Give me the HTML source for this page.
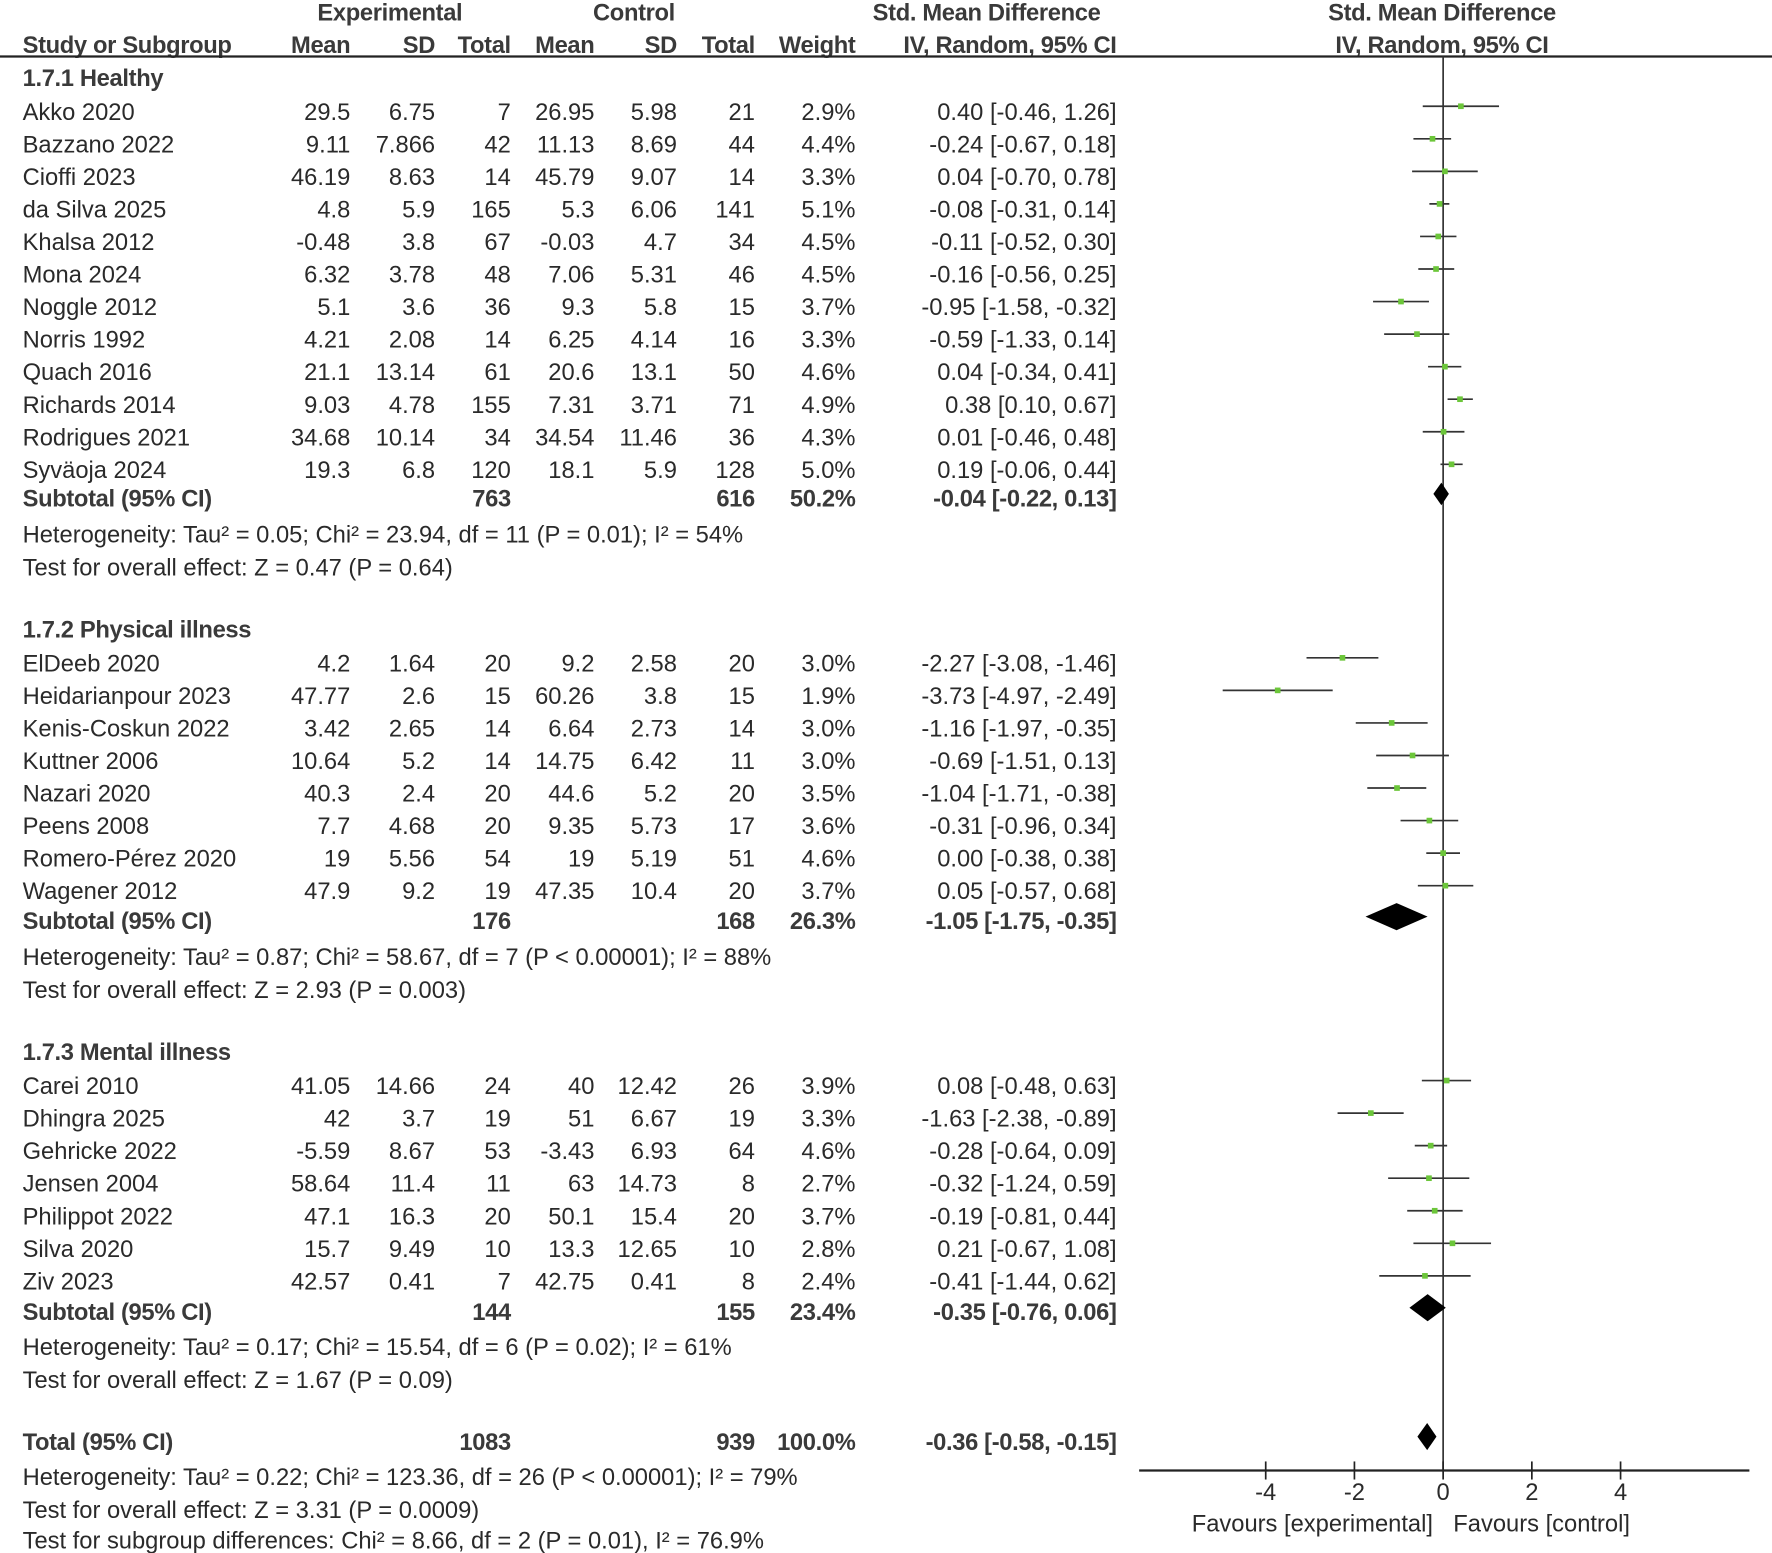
<!DOCTYPE html>
<html><head><meta charset="utf-8"><style>
html,body{margin:0;padding:0;background:#fff;}
svg{display:block}
text{font-family:"Liberation Sans",sans-serif;font-size:21px;fill:#2a2a2a;letter-spacing:0px}
.b{font-weight:bold;fill:#3a3a3a;letter-spacing:-0.3px}
</style></head><body>
<svg id="s" width="1772" height="1553" viewBox="0 0 1568 1374" preserveAspectRatio="none" xmlns="http://www.w3.org/2000/svg"></svg>
<script>
const s=document.getElementById('s');let h='';
function t(x,y,str,anchor,cls){h+=`<text x="${x}" y="${y+7}" text-anchor="${anchor||'start'}" class="${cls||''}">${str}</text>`;}
const X=v=>1277+39.25*v;
const cols=[310,385,452,526,599,668,757,988];
t(345,11,'Experimental','middle','b');t(561,11,'Control','middle','b');t(873,11,'Std. Mean Difference','middle','b');t(1276,11,'Std. Mean Difference','middle','b');
t(20,40,'Study or Subgroup','start','b');
['Mean','SD','Total','Mean','SD','Total','Weight','IV, Random, 95% CI'].forEach((c,i)=>t(cols[i],40,c,'end','b'));
t(1276,40,'IV, Random, 95% CI','middle','b');
h+=`<line x1="0" y1="50" x2="1568" y2="50" stroke="#222" stroke-width="2"/>`;
h+=`<line x1="1277" y1="50" x2="1277" y2="1300" stroke="#333" stroke-width="1.5"/>`;
const groups=[
{title:'1.7.1 Healthy',ty:69,y0:99,rows:[
['Akko 2020',29.5,6.75,7,26.95,5.98,21,'2.9%',0.40,-0.46,1.26],
['Bazzano 2022',9.11,7.866,42,11.13,8.69,44,'4.4%',-0.24,-0.67,0.18],
['Cioffi 2023',46.19,8.63,14,45.79,9.07,14,'3.3%',0.04,-0.70,0.78],
['da Silva 2025',4.8,5.9,165,5.3,6.06,141,'5.1%',-0.08,-0.31,0.14],
['Khalsa 2012',-0.48,3.8,67,-0.03,4.7,34,'4.5%',-0.11,-0.52,0.30],
['Mona 2024',6.32,3.78,48,7.06,5.31,46,'4.5%',-0.16,-0.56,0.25],
['Noggle 2012',5.1,3.6,36,9.3,5.8,15,'3.7%',-0.95,-1.58,-0.32],
['Norris 1992',4.21,2.08,14,6.25,4.14,16,'3.3%',-0.59,-1.33,0.14],
['Quach 2016',21.1,13.14,61,20.6,13.1,50,'4.6%',0.04,-0.34,0.41],
['Richards 2014',9.03,4.78,155,7.31,3.71,71,'4.9%',0.38,0.10,0.67],
['Rodrigues 2021',34.68,10.14,34,34.54,11.46,36,'4.3%',0.01,-0.46,0.48],
['Syväoja 2024',19.3,6.8,120,18.1,5.9,128,'5.0%',0.19,-0.06,0.44]],
sub:[441,763,616,'50.2%',-0.04,-0.22,0.13,10],het:[473,'Heterogeneity: Tau² = 0.05; Chi² = 23.94, df = 11 (P = 0.01); I² = 54%'],test:[502,'Test for overall effect: Z = 0.47 (P = 0.64)']},
{title:'1.7.2 Physical illness',ty:557,y0:587,rows:[
['ElDeeb 2020',4.2,1.64,20,9.2,2.58,20,'3.0%',-2.27,-3.08,-1.46],
['Heidarianpour 2023',47.77,2.6,15,60.26,3.8,15,'1.9%',-3.73,-4.97,-2.49],
['Kenis-Coskun 2022',3.42,2.65,14,6.64,2.73,14,'3.0%',-1.16,-1.97,-0.35],
['Kuttner 2006',10.64,5.2,14,14.75,6.42,11,'3.0%',-0.69,-1.51,0.13],
['Nazari 2020',40.3,2.4,20,44.6,5.2,20,'3.5%',-1.04,-1.71,-0.38],
['Peens 2008',7.7,4.68,20,9.35,5.73,17,'3.6%',-0.31,-0.96,0.34],
['Romero-Pérez 2020',19,5.56,54,19,5.19,51,'4.6%','0.00',-0.38,0.38],
['Wagener 2012',47.9,9.2,19,47.35,10.4,20,'3.7%',0.05,-0.57,0.68]],
sub:[815,176,168,'26.3%',-1.05,-1.75,-0.35,12],het:[847,'Heterogeneity: Tau² = 0.87; Chi² = 58.67, df = 7 (P &lt; 0.00001); I² = 88%'],test:[876,'Test for overall effect: Z = 2.93 (P = 0.003)']},
{title:'1.7.3 Mental illness',ty:931,y0:961,rows:[
['Carei 2010',41.05,14.66,24,40,12.42,26,'3.9%',0.08,-0.48,0.63],
['Dhingra 2025',42,3.7,19,51,6.67,19,'3.3%',-1.63,-2.38,-0.89],
['Gehricke 2022',-5.59,8.67,53,-3.43,6.93,64,'4.6%',-0.28,-0.64,0.09],
['Jensen 2004',58.64,11.4,11,63,14.73,8,'2.7%',-0.32,-1.24,0.59],
['Philippot 2022',47.1,16.3,20,50.1,15.4,20,'3.7%',-0.19,-0.81,0.44],
['Silva 2020',15.7,9.49,10,13.3,12.65,10,'2.8%',0.21,-0.67,1.08],
['Ziv 2023',42.57,0.41,7,42.75,0.41,8,'2.4%',-0.41,-1.44,0.62]],
sub:[1161,144,155,'23.4%',-0.35,-0.76,0.06,12],het:[1192,'Heterogeneity: Tau² = 0.17; Chi² = 15.54, df = 6 (P = 0.02); I² = 61%'],test:[1221,'Test for overall effect: Z = 1.67 (P = 0.09)']}];
const f=v=>typeof v==='string'?v:v.toFixed(2);
function dia(y,e,l,u,hh){h+=`<polygon points="${X(l)},${y} ${X(e)},${y-hh} ${X(u)},${y} ${X(e)},${y+hh}" fill="#000"/>`;}
groups.forEach(g=>{
 t(20,g.ty,g.title,'start','b');
 g.rows.forEach((r,i)=>{const y=g.y0+i*28.8;
  t(20,y,r[0]);for(let k=1;k<=7;k++)t(cols[k-1],y,r[k],'end');
  t(988,y,`${f(r[8])} [${f(r[9])}, ${f(r[10])}]`,'end');
  const e=parseFloat(r[8]);const yy=y-5;
  h+=`<line x1="${X(r[9])}" y1="${yy}" x2="${X(r[10])}" y2="${yy}" stroke="#333" stroke-width="1.5"/>`;
  h+=`<rect x="${X(e)-2.5}" y="${yy-2.5}" width="5" height="5" fill="#6cc63a"/>`;});
 const sb=g.sub;t(20,sb[0],'Subtotal (95% CI)','start','b');t(452,sb[0],sb[1],'end','b');t(668,sb[0],sb[2],'end','b');t(757,sb[0],sb[3],'end','b');
 t(988,sb[0],`${f(sb[4])} [${f(sb[5])}, ${f(sb[6])}]`,'end','b');dia(sb[0]-4,sb[4],sb[5],sb[6],sb[7]);
 t(20,g.het[0],g.het[1]);t(20,g.test[0],g.test[1]);});
t(20,1276,'Total (95% CI)','start','b');t(452,1276,'1083','end','b');t(668,1276,'939','end','b');t(757,1276,'100.0%','end','b');
t(988,1276,'-0.36 [-0.58, -0.15]','end','b');dia(1271,-0.36,-0.58,-0.15,12);
t(20,1307,'Heterogeneity: Tau² = 0.22; Chi² = 123.36, df = 26 (P &lt; 0.00001); I² = 79%');
t(20,1336,'Test for overall effect: Z = 3.31 (P = 0.0009)');
t(20,1363,'Test for subgroup differences: Chi² = 8.66, df = 2 (P = 0.01), I² = 76.9%');
h+=`<line x1="1008" y1="1301" x2="1548" y2="1301" stroke="#222" stroke-width="2"/>`;
[-4,-2,0,2,4].forEach(v=>{h+=`<line x1="${X(v)}" y1="1293" x2="${X(v)}" y2="1309" stroke="#222" stroke-width="1.5"/>`;t(X(v),1320,v,'middle');});
t(1268,1348,'Favours [experimental]','end');t(1286,1348,'Favours [control]','start');
s.innerHTML=h;
</script>
</body></html>
